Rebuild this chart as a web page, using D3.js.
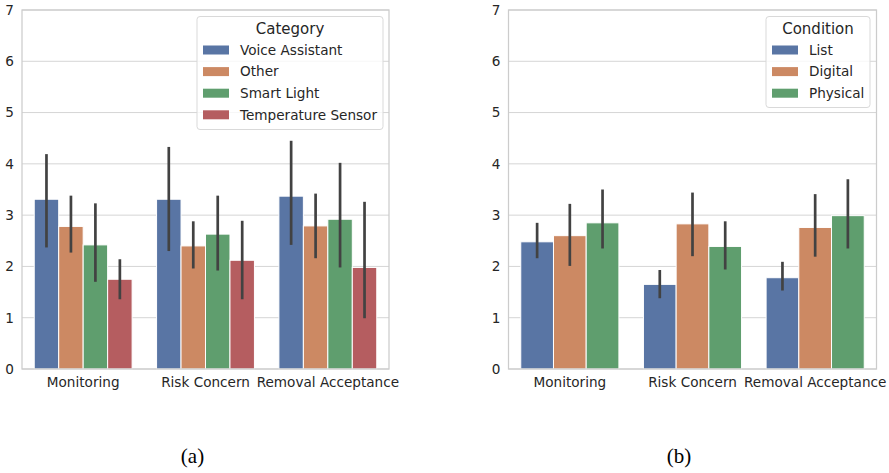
<!DOCTYPE html>
<html>
<head>
<meta charset="utf-8">
<script src="https://cdn.jsdelivr.net/npm/d3@7"></script>
<style>
  html, body { margin: 0; padding: 0; background: #ffffff; }
  svg { display: block; }
</style>
</head>
<body>
<svg id="chart" width="889" height="473"></svg>
<script>
// ---------- data ----------
const categories = ["Monitoring", "Risk Concern", "Removal Acceptance"];
const yTicks = [0, 1, 2, 3, 4, 5, 6, 7];

// Panel (a): by Category
const seriesA = ["Voice Assistant", "Other", "Smart Light", "Temperature Sensor"];
const meanVoiceAssistant = [3.31, 3.31, 3.37];
const lowVoiceAssistant  = [2.37, 2.30, 2.42];
const highVoiceAssistant = [4.19, 4.33, 4.45];
const meanOther = [2.78, 2.40, 2.79];
const lowOther  = [2.27, 1.96, 2.16];
const highOther = [3.38, 2.88, 3.42];
const meanSmartLight = [2.42, 2.63, 2.92];
const lowSmartLight  = [1.70, 1.92, 1.98];
const highSmartLight = [3.23, 3.38, 4.02];
const meanTempSensor = [1.75, 2.12, 1.98];
const lowTempSensor  = [1.36, 1.36, 0.99];
const highTempSensor = [2.14, 2.89, 3.26];

// Panel (b): by Condition
const seriesB = ["List", "Digital", "Physical"];
const meanList = [2.48, 1.65, 1.78];
const lowList  = [2.16, 1.38, 1.53];
const highList = [2.85, 1.93, 2.09];
const meanDigital = [2.60, 2.83, 2.76];
const lowDigital  = [2.01, 2.20, 2.19];
const highDigital = [3.22, 3.44, 3.41];
const meanPhysical = [2.85, 2.39, 2.99];
const lowPhysical  = [2.35, 1.94, 2.35];
const highPhysical = [3.50, 2.88, 3.70];

const palette = ["#5975a4", "#cc8963", "#5f9e6e", "#b55d60"];

function buildRows(series, means, lows, highs) {
  const rows = [];
  categories.forEach((c, ci) => {
    series.forEach((s, si) => {
      rows.push({ cat: c, ser: s, si: si, mean: means[si][ci], lo: lows[si][ci], hi: highs[si][ci] });
    });
  });
  return rows;
}

const rowsA = buildRows(seriesA,
  [meanVoiceAssistant, meanOther, meanSmartLight, meanTempSensor],
  [lowVoiceAssistant, lowOther, lowSmartLight, lowTempSensor],
  [highVoiceAssistant, highOther, highSmartLight, highTempSensor]);
const rowsB = buildRows(seriesB,
  [meanList, meanDigital, meanPhysical],
  [lowList, lowDigital, lowPhysical],
  [highList, highDigital, highPhysical]);

const svg = d3.select("#chart");
const FONT = "'DejaVu Sans', sans-serif";
const TXT = "#262626";
const FS = 13.6;

function panel(opts) {
  const { left, right, top, bottom, rows, series, legendTitle, legend, caption, captionX } = opts;
  const g = svg.append("g");

  const x = d3.scaleBand().domain(categories).range([left, right]).padding(0);
  const inner = d3.scaleBand().domain(series)
    .range([x.bandwidth() * 0.1, x.bandwidth() * 0.9]).padding(0);
  const y = d3.scaleLinear().domain([0, 7]).range([bottom, top]);

  // gridlines
  g.append("g").selectAll("line").data(yTicks).join("line")
    .attr("x1", left).attr("x2", right)
    .attr("y1", d => y(d)).attr("y2", d => y(d))
    .attr("stroke", "#d5d5d5").attr("stroke-width", 1);

  // y axis labels
  const yAxis = d3.axisLeft(y).tickValues(yTicks).tickSize(0).tickPadding(8).tickFormat(d3.format("d"));
  const ya = g.append("g").attr("transform", `translate(${left},0)`).call(yAxis);
  ya.select(".domain").remove();
  ya.selectAll("text").attr("font-family", FONT).attr("font-size", FS).attr("fill", TXT);

  // x axis labels
  const xAxis = d3.axisBottom(x).tickSize(0).tickPadding(8);
  const xa = g.append("g").attr("transform", `translate(0,${bottom})`).call(xAxis);
  xa.select(".domain").remove();
  xa.selectAll("text").attr("font-family", FONT).attr("font-size", FS).attr("fill", TXT);

  // bars
  g.append("g").selectAll("rect").data(rows).join("rect")
    .attr("x", d => x(d.cat) + inner(d.ser))
    .attr("width", inner.bandwidth())
    .attr("y", d => y(d.mean))
    .attr("height", d => y(0) - y(d.mean))
    .attr("fill", d => palette[d.si])
    .attr("stroke", "#ffffff").attr("stroke-width", 1);

  // error bars
  g.append("g").selectAll("line").data(rows).join("line")
    .attr("x1", d => x(d.cat) + inner(d.ser) + inner.bandwidth() / 2)
    .attr("x2", d => x(d.cat) + inner(d.ser) + inner.bandwidth() / 2)
    .attr("y1", d => y(d.lo)).attr("y2", d => y(d.hi))
    .attr("stroke", "#424242").attr("stroke-width", 2.7);

  // frame
  g.append("rect").attr("x", left).attr("y", top)
    .attr("width", right - left).attr("height", bottom - top)
    .attr("fill", "none").attr("stroke", "#cccccc").attr("stroke-width", 1.25);

  // legend
  const lg = g.append("g");
  lg.append("rect").attr("x", legend.x).attr("y", legend.y)
    .attr("width", legend.w).attr("height", legend.h).attr("rx", 3)
    .attr("fill", "#ffffff").attr("fill-opacity", 0.8)
    .attr("stroke", "#d9d9d9").attr("stroke-width", 1);
  lg.append("text").attr("x", legend.x + legend.w / 2).attr("y", legend.y + 17.5)
    .attr("text-anchor", "middle").attr("font-family", FONT).attr("font-size", 15)
    .attr("fill", TXT).text(legendTitle);
  const items = lg.selectAll("g.item").data(series).join("g").attr("class", "item")
    .attr("transform", (d, i) => `translate(${legend.x + 6},${legend.y + 33.5 + i * 21.6})`);
  items.append("rect").attr("x", 0).attr("y", -4.5).attr("width", 26).attr("height", 9)
    .attr("fill", (d, i) => palette[i]);
  items.append("text").attr("x", 37).attr("y", 0).attr("dy", "0.35em")
    .attr("font-family", FONT).attr("font-size", FS).attr("fill", TXT).text(d => d);

  // caption
  svg.append("text").attr("x", captionX).attr("y", 463).attr("text-anchor", "middle")
    .attr("font-family", "'Liberation Serif', serif").attr("font-size", 21)
    .attr("fill", "#000").text(caption);
}

panel({ left: 22, right: 389, top: 10, bottom: 369, rows: rowsA, series: seriesA,
  legendTitle: "Category", legend: { x: 197, y: 16.5, w: 186, h: 113 },
  caption: "(a)", captionX: 192.5 });
panel({ left: 508.5, right: 876.5, top: 10, bottom: 369, rows: rowsB, series: seriesB,
  legendTitle: "Condition", legend: { x: 766, y: 16.5, w: 104, h: 91 },
  caption: "(b)", captionX: 679 });
</script>
</body>
</html>
